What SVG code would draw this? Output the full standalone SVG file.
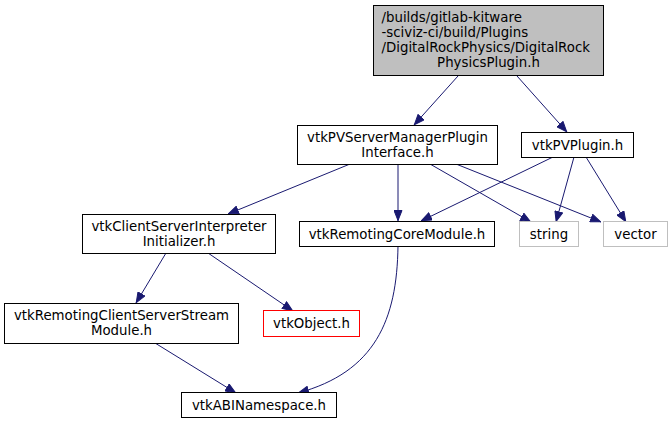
<svg xmlns="http://www.w3.org/2000/svg" width="672" height="424" viewBox="0 0 672 424">
<defs>
<style>
.n rect{fill:#fff;stroke:#000;stroke-width:1}
.n.g rect{stroke:#bfbfbf}
.n.r rect{stroke:#f00}
.n.top rect{fill:#bfbfbf}
text{font-family:"DejaVu Sans","Liberation Sans",sans-serif;font-size:13.33px;fill:#000}
.m{text-anchor:middle}
.e path{fill:none;stroke:#191970;stroke-width:1}
</style>
<marker id="a" viewBox="0 0 11 9" refX="11" refY="4.5" markerWidth="11" markerHeight="9" markerUnits="userSpaceOnUse" orient="auto">
<path d="M0.5,0.5 L10.5,4.5 L0.5,8.5 z" fill="#191970" stroke="#191970"/>
</marker>
</defs>
<rect width="672" height="424" fill="#fff"/>
<g class="e">
<path d="M458,76 L414,125" marker-end="url(#a)"/>
<path d="M517,76 L567,132" marker-end="url(#a)"/>
<path d="M350,164 L228,214" marker-end="url(#a)"/>
<path d="M398,164 L398,221" marker-end="url(#a)"/>
<path d="M430,164 L531,222" marker-end="url(#a)"/>
<path d="M456,164 L601,222" marker-end="url(#a)"/>
<path d="M553,157 L421,221" marker-end="url(#a)"/>
<path d="M574,157 L556,222" marker-end="url(#a)"/>
<path d="M586,157 L626,222" marker-end="url(#a)"/>
<path d="M166,253 L136,303" marker-end="url(#a)"/>
<path d="M208,253 L293,311" marker-end="url(#a)"/>
<path d="M155,343 L236,393" marker-end="url(#a)"/>
<path d="M398,246 C397,320 375,372 298,393" marker-end="url(#a)"/>
</g>
<g id="n_top" class="n top"><rect x="373.5" y="5.5" width="230" height="70"/>
<text x="381.5" y="22">/builds/gitlab-kitware</text>
<text x="381.5" y="37">-sciviz-ci/build/Plugins</text>
<text x="381.5" y="52">/DigitalRockPhysics/DigitalRock</text>
<text x="488.5" y="67" class="m">PhysicsPlugin.h</text></g>
<g id="n_pvsm" class="n"><rect x="297.5" y="125.5" width="200" height="39"/>
<text x="397.5" y="141.5" class="m">vtkPVServerManagerPlugin</text>
<text x="397.5" y="156.5" class="m">Interface.h</text></g>
<g id="n_pvplugin" class="n"><rect x="521.5" y="132.5" width="112" height="25"/>
<text x="577.5" y="149.5" class="m">vtkPVPlugin.h</text></g>
<g id="n_csii" class="n"><rect x="82.5" y="214.5" width="193" height="39"/>
<text x="179" y="230.5" class="m">vtkClientServerInterpreter</text>
<text x="179" y="245.5" class="m">Initializer.h</text></g>
<g id="n_core" class="n"><rect x="299.5" y="221.5" width="195" height="25"/>
<text x="397" y="238.5" class="m">vtkRemotingCoreModule.h</text></g>
<g id="n_string" class="n g"><rect x="519.5" y="221.5" width="59" height="25"/>
<text x="549" y="238.5" class="m">string</text></g>
<g id="n_vector" class="n g"><rect x="603.5" y="221.5" width="64" height="25"/>
<text x="635.5" y="238.5" class="m">vector</text></g>
<g id="n_stream" class="n"><rect x="4.5" y="303.5" width="234" height="40"/>
<text x="121.5" y="319.5" class="m">vtkRemotingClientServerStream</text>
<text x="121.5" y="334.5" class="m">Module.h</text></g>
<g id="n_object" class="n r"><rect x="263.5" y="310.5" width="96" height="26"/>
<text x="311.5" y="328" class="m">vtkObject.h</text></g>
<g id="n_abi" class="n"><rect x="181.5" y="392.5" width="155" height="25"/>
<text x="259" y="409.5" class="m">vtkABINamespace.h</text></g>
</svg>
